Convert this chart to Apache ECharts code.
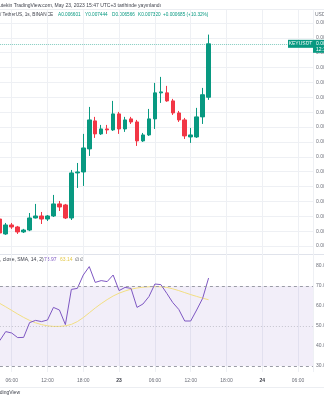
<!DOCTYPE html>
<html>
<head>
<meta charset="utf-8">
<script src="https://cdn.jsdelivr.net/npm/echarts@6/dist/echarts.min.js"></script>
<style>
  html, body { margin: 0; padding: 0; background: #ffffff; }
  #chart { width: 324px; height: 400px; }
</style>
</head>
<body>
<div id="chart"></div>
<script>
// KEY / TetherUS, 1h candles, BINANCE (times UTC+3)
// x values are hours counted from 2023-05-22 00:00
const FIRST_HOUR = 4;

const opens  = [0.004963, 0.004762, 0.004883, 0.004856, 0.004789, 0.004815, 0.004977, 0.005004, 0.004963, 0.005004,
                0.005166, 0.005152, 0.004977, 0.005583, 0.005596, 0.005906, 0.006283, 0.006108, 0.006175, 0.006162,
                0.006377, 0.006175, 0.006310, 0.006269, 0.006014, 0.006094, 0.006310, 0.006660, 0.006660, 0.006552,
                0.006390, 0.006296, 0.006067, 0.006067, 0.006337, 0.006601];
const closes = [0.004775, 0.004883, 0.004856, 0.004789, 0.004815, 0.004977, 0.005004, 0.004963, 0.005004, 0.005166,
                0.005125, 0.004977, 0.005583, 0.005596, 0.005919, 0.006296, 0.006108, 0.006175, 0.006162, 0.006377,
                0.006175, 0.006296, 0.006269, 0.006014, 0.006094, 0.006310, 0.006660, 0.006673, 0.006552, 0.006390,
                0.006296, 0.006081, 0.006094, 0.006337, 0.006635, 0.007320];
const lows   = [0.004750, 0.004750, 0.004830, 0.004762, 0.004775, 0.004800, 0.004970, 0.004896, 0.004936, 0.004990,
                0.005071, 0.004963, 0.004950, 0.005381, 0.005408, 0.005812, 0.006054, 0.006094, 0.006108, 0.006148,
                0.006108, 0.006135, 0.006242, 0.005946, 0.006000, 0.006081, 0.006175, 0.006525, 0.006540, 0.006363,
                0.006269, 0.006040, 0.005987, 0.006054, 0.006242, 0.006566];
const highs  = [0.004990, 0.004910, 0.004910, 0.004870, 0.004830, 0.005044, 0.005166, 0.005058, 0.005017, 0.005287,
                0.005206, 0.005166, 0.005623, 0.005717, 0.006108, 0.006471, 0.006337, 0.006229, 0.006229, 0.006552,
                0.006404, 0.006337, 0.006337, 0.006296, 0.006121, 0.006444, 0.006794, 0.006875, 0.006754, 0.006579,
                0.006417, 0.006323, 0.006189, 0.006458, 0.006727, 0.007444];

// RSI (14, close) and its SMA(14)
const rsiValues = [42.7, 47.2, 46.5, 44.2, 44.3, 51.7, 52.8, 52.2, 53.0, 59.3,
                   58.0, 50.7, 68.3, 68.8, 75.5, 79.7, 71.8, 72.7, 72.2, 75.5,
                   67.7, 69.3, 68.8, 59.3, 61.0, 64.7, 71.0, 70.7, 66.3, 61.7,
                   58.3, 52.5, 52.5, 58.0, 63.8, 73.97];
const rsiMaValues = [61.3, 59.6, 57.8, 56.0, 54.3, 52.8, 51.6, 50.7, 50.1, 49.8,
                     49.8, 50.1, 50.8, 52.2, 54.2, 56.6, 59.0, 61.2, 63.2, 65.0,
                     66.4, 67.5, 68.4, 69.0, 69.4, 69.6, 69.7, 69.6, 69.3, 68.6,
                     67.7, 66.7, 65.7, 64.8, 63.9, 63.14];

const lastPrice = 0.007320;
const countdown = '12:13';
const baseDay = 22; // May 22

const UP = '#089981', DOWN = '#F23645';
const FONT = 'Liberation Sans, Arial, sans-serif';
const TXT = '#6b6e78';
const GRIDC = '#eef0f4';

const hourAt = i => FIRST_HOUR + i;
const candleData = opens.map((o, i) => [hourAt(i), o, closes[i], lows[i], highs[i]]);
const rsiData = rsiValues.map((v, i) => [hourAt(i), v]);
const rsiMaData = rsiMaValues.map((v, i) => [hourAt(i), v]);

const X_MIN = 0, X_MAX = 56.5;
const gridSide = { left: -24.1, right: 11, outerBoundsMode: 'none', containLabel: false };

const hiddenX = idx => ({
  type: 'value', gridIndex: idx, min: X_MIN, max: X_MAX, interval: 6,
  axisLine: { show: false }, axisTick: { show: false }, axisLabel: { show: false }, splitLine: { show: false }
});

const txt = (x, y, text, fill, extra) => ({
  type: 'text', x: x, y: y, silent: true,
  style: Object.assign({ text: text, fill: fill, font: '5px ' + FONT, verticalAlign: 'middle' }, extra || {})
});
const small = { font: '4.7px ' + FONT };

const baseGraphic = [
  { type: 'line', shape: { x1: 0, y1: 9.5, x2: 324, y2: 9.5 }, style: { stroke: '#eceef2', lineWidth: 1 }, silent: true },
  { type: 'line', shape: { x1: 0, y1: 254.5, x2: 324, y2: 254.5 }, style: { stroke: '#e0e3eb', lineWidth: 1 }, silent: true },
  { type: 'line', shape: { x1: 0, y1: 387.5, x2: 324, y2: 387.5 }, style: { stroke: '#eceef2', lineWidth: 1 }, silent: true },
  txt(-1, 6, 'utekin TradingView.com, May 23, 2023 15:47 UTC+3 tarihinde yayınlandı', '#3f424c'),
  txt(0, 15, '/ TetherUS, 1s, BINANCE', '#3f424c', small),
  txt(58, 15, 'A0.006601', UP, small),
  txt(85, 15, 'Y0.007444', UP, small),
  txt(112, 15, 'D0.006566', UP, small),
  txt(138, 15, 'K0.007320', UP, small),
  txt(163, 15, '+0.000685 (+10.32%)', UP, small),
  txt(315, 15, 'USDT', TXT),
  txt(0, 260, ', close, SMA, 14, 2)', '#3f424c'),
  txt(44, 260, '73.97', '#7E57C2'),
  txt(60, 260, '63.14', '#E3C84A'),
  txt(75, 260, '∅', '#3f424c'),
  txt(80, 260, '∅', '#3f424c'),
  txt(20, 393, 'TradingView', '#3f424c', { align: 'right' })
];

const chart = echarts.init(document.getElementById('chart'), null, { renderer: 'canvas' });

chart.setOption({
  animation: false,
  backgroundColor: '#ffffff',
  textStyle: { fontFamily: FONT },
  axisPointer: { triggerOn: 'none' },
  grid: [
    Object.assign({ top: 23, height: 223 }, gridSide),
    Object.assign({ top: 266, height: 100 }, gridSide),
    Object.assign({ top: 10, bottom: 28 }, gridSide)
  ],
  xAxis: [
    hiddenX(0),
    hiddenX(1),
    {
      type: 'value', gridIndex: 2, min: X_MIN, max: X_MAX, interval: 6,
      axisLine: { show: false }, axisTick: { show: false },
      splitLine: { show: true, lineStyle: { color: GRIDC, width: 1 } },
      axisLabel: {
        fontSize: 5, color: TXT, margin: 6, fontFamily: FONT, hideOverlap: false,
        formatter: v => {
          if (v % 6 !== 0) return '';
          if (v % 24 === 0) return '{d|' + (baseDay + v / 24) + '}';
          const h = v % 24;
          return (h < 10 ? '0' : '') + h + ':00';
        },
        rich: { d: { fontSize: 5, fontWeight: 'bold', color: '#3b3e48', fontFamily: FONT } }
      }
    }
  ],
  yAxis: [
    {
      type: 'value', gridIndex: 0, position: 'right', min: 0.0046, max: 0.0076, interval: 0.0002,
      axisLine: { show: false }, axisTick: { show: false },
      splitLine: { show: true, lineStyle: { color: GRIDC } },
      axisLabel: { fontSize: 5, color: TXT, margin: 3, fontFamily: FONT, formatter: v => v.toFixed(6) },
      // dotted last price line
      axisPointer: {
        show: true, status: 'show', value: lastPrice, type: 'line', triggerTooltip: false,
        lineStyle: { color: UP, type: 'dotted', width: 1, opacity: 0.5 },
        label: { show: false }
      }
    },
    {
      type: 'value', gridIndex: 1, position: 'right', min: 30, max: 80, interval: 10,
      axisLine: { show: false }, axisTick: { show: false },
      splitLine: { show: false },
      axisLabel: { fontSize: 5, color: TXT, margin: 3, fontFamily: FONT, formatter: v => v.toFixed(2) }
    },
    { type: 'value', gridIndex: 2, min: 0, max: 1, show: false }
  ],
  series: [
    {
      type: 'candlestick', name: 'KEYUSDT', xAxisIndex: 0, yAxisIndex: 0,
      data: candleData, barWidth: 4,
      itemStyle: { color: UP, color0: DOWN, borderColor: UP, borderColor0: DOWN, borderWidth: 1 }
    },
    {
      type: 'line', name: 'RSI', xAxisIndex: 1, yAxisIndex: 1, data: rsiData,
      symbol: 'none', lineStyle: { color: '#7E57C2', width: 1 }, z: 3,
      markArea: {
        silent: true,
        itemStyle: { color: 'rgba(126,87,194,0.1)' },
        data: [[{ yAxis: 30 }, { yAxis: 70 }]]
      },
      markLine: {
        silent: true, symbol: ['none', 'none'], label: { show: false },
        lineStyle: { color: '#9a9ca6', type: [3, 3], width: 1 },
        data: [
          { yAxis: 70 },
          { yAxis: 50, lineStyle: { color: 'rgba(154,156,166,0.5)', type: [1, 2] } },
          { yAxis: 30 }
        ]
      }
    },
    {
      type: 'line', name: 'RSI MA', xAxisIndex: 1, yAxisIndex: 1, data: rsiMaData,
      symbol: 'none', lineStyle: { color: '#F2DE82', width: 1 }, z: 2
    }
  ],
  graphic: baseGraphic
});

// symbol and last price tags, placed at the price scale's position for lastPrice
const yLast = chart.convertToPixel({ yAxisIndex: 0 }, lastPrice);
const xEdge = chart.convertToPixel({ xAxisIndex: 0 }, X_MAX);
const tags = [
  { type: 'rect', silent: true, z: 10, shape: { x: xEdge - 25, y: yLast - 4, width: 25, height: 8 }, style: { fill: UP } },
  txt(xEdge - 12.5, yLast, 'KEYUSDT', '#ffffff', { align: 'center' }),
  { type: 'rect', silent: true, z: 10, shape: { x: xEdge, y: yLast - 4, width: 30, height: 13 }, style: { fill: UP } },
  txt(xEdge + 3, yLast, lastPrice.toFixed(6), '#ffffff'),
  txt(xEdge + 3, yLast + 5.5, countdown, '#ffffff')
];
tags.forEach(t => { if (t.type === 'text') t.z = 11; });
chart.setOption({ graphic: baseGraphic.concat(tags) });
</script>
</body>
</html>
